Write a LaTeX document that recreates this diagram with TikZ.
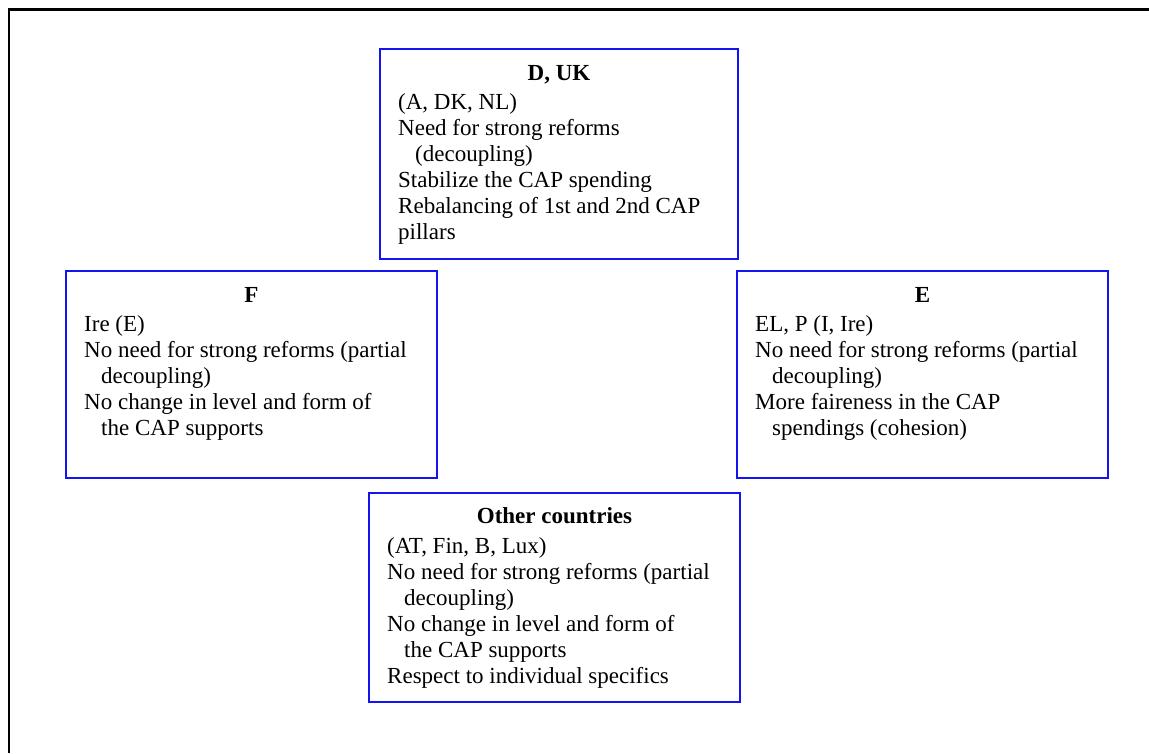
\documentclass[tikz,border=0pt]{standalone}
\usepackage{fontspec}
\setmainfont{Liberation Serif}
\usetikzlibrary{calc}
\definecolor{boxblue}{RGB}{20,20,240}
\tikzset{
  grpbox/.style={draw=boxblue, line width=1.6pt, rectangle, inner sep=0pt, outer sep=0pt, anchor=north west},
  grptitle/.style={anchor=base, inner sep=0pt, font=\fontsize{23}{26}\selectfont\bfseries},
  grpbody/.style={anchor=north west, inner sep=0pt, align=left, font=\fontsize{23}{26}\selectfont},
  frameline/.style={line width=2.2pt, black}
}
\newcommand{\ind}{\hspace*{17pt}}
\begin{document}
\begin{tikzpicture}[x=1pt,y=-1pt]
\useasboundingbox (0,0) rectangle (1149,753);
\coordinate (fa) at (9,753);
\coordinate (fb) at (9,9.5);
\coordinate (fc) at (1149,9.5);
\draw[frameline] (fa) -- (fb) -- (fc);

% boxes
\node[grpbox, minimum width=358pt, minimum height=210pt] (duk) at (380,49) {};
\node[grpbox, minimum width=371pt, minimum height=207pt] (f) at (66,271) {};
\node[grpbox, minimum width=371pt, minimum height=207pt] (e) at (737,271) {};
\node[grpbox, minimum width=371pt, minimum height=209pt] (oth) at (369,493) {};

% titles
\node[grptitle] (dukt) at ($(duk.north)+(0,31)$) {D, UK};
\node[grptitle] (ft) at ($(f.north)+(0,31)$) {F};
\node[grptitle] (et) at ($(e.north)+(0,31)$) {E};
\node[grptitle] (otht) at ($(oth.north)+(0,30)$) {Other countries};

% bodies
\node[grpbody] (dukb) at ($(duk.north west)+(18,42.5)$) {\strut(A, DK, NL)\\Need for strong reforms\\\ind(decoupling)\\Stabilize the CAP spending\\Rebalancing of 1st and 2nd CAP\\pillars};
\node[grpbody] (fb2) at ($(f.north west)+(18,42)$) {\strut Ire (E)\\No need for strong reforms (partial\\\ind decoupling)\\No change in level and form of\\\ind the CAP supports};
\node[grpbody] (eb) at ($(e.north west)+(18,42)$) {\strut EL, P (I, Ire)\\No need for strong reforms (partial\\\ind decoupling)\\More faireness in the CAP\\\ind spendings (cohesion)};
\node[grpbody] (othb) at ($(oth.north west)+(18,42)$) {\strut(AT, Fin, B, Lux)\\No need for strong reforms (partial\\\ind decoupling)\\No change in level and form of\\\ind the CAP supports\\Respect to individual specifics};
\end{tikzpicture}
\end{document}
